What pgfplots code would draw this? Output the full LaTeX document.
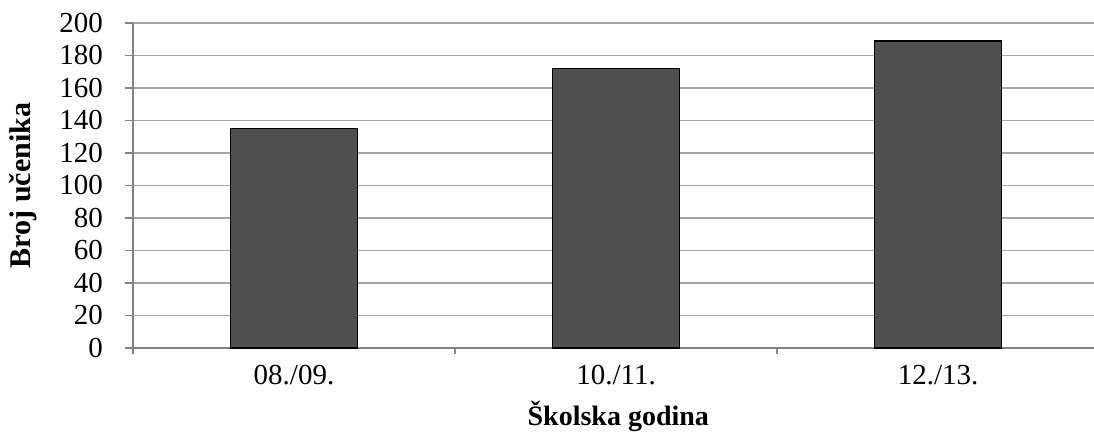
\documentclass[border=0pt]{standalone}
\usepackage{pgfplots}
\pgfplotsset{compat=1.18}
\usepackage{fontspec}
\setmainfont{Liberation Serif}
\definecolor{barfill}{RGB}{80,80,80}
\definecolor{gridgray}{RGB}{165,165,165}
\definecolor{axisgray}{RGB}{130,130,130}

\begin{document}
\begin{tikzpicture}
\useasboundingbox (-66.5pt,-42pt) rectangle (480.5pt,174pt);
\begin{axis}[
    scale only axis,
    width=480.5pt, height=162.5pt,
    xmin=-0.5, xmax=2.484,
    ymin=0, ymax=200,
    ytick={0,20,...,200},
    xtick={0,1,2},
    xticklabels={08./09., 10./11., 12./13.},
    minor xtick={-0.5,0.5,1.5,2.5},
    major x tick style={draw=none},
    minor x tick style={draw=axisgray, line width=0.8pt},
    minor tick length=3pt,
    ytick style={draw=axisgray, line width=0.8pt},
    major tick length=4pt,
    tick align=outside,
    axis lines*=left,
    axis line style={draw=axisgray, line width=0.8pt},
    ymajorgrids=true,
    grid style={draw=gridgray, line width=0.9pt},
    /pgf/number format/assume math mode=true,
    ticklabel style={font=\fontsize{14.5}{16}\selectfont},
    yticklabel style={xshift=-7.5pt},
    xticklabel style={yshift=-1pt},
    xlabel={\textbf{Školska godina}},
    ylabel={\textbf{Broj učenika}},
    every axis x label/.style={at={(axis description cs:0.505,-0.237)}, anchor=base, font=\fontsize{14}{16}\selectfont},
    every axis y label/.style={at={(axis description cs:-0.1145,0.5)}, rotate=90, anchor=center, font=\fontsize{15}{17}\selectfont},
    clip=false,
]
\addplot[ybar, bar width=63.5pt, fill=barfill, draw=black, line width=0.8pt]
    coordinates {(0,135) (1,172) (2,189)};
\end{axis}
\end{tikzpicture}
\end{document}
